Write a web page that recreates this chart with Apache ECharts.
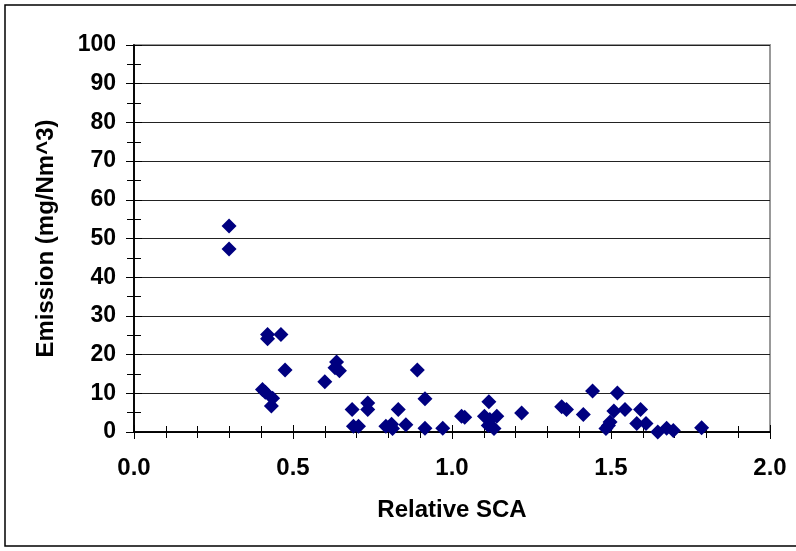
<html>
  <head>
    <meta charset="utf-8" />
    <title>Emission vs Relative SCA</title>
    <script type="text/javascript" src="https://cdn.jsdelivr.net/npm/echarts@6/dist/echarts.min.js"></script>
    <style>
      body { margin: 0; background: #fff; }
    </style>
  </head>
  <body>
      <div id="main" style="width:796px;height:551px;"></div>
      <script type="text/javascript">
        // values
        var relSCA = [
            0.299, 0.299, 0.420, 0.420, 0.462, 0.475, 0.404, 0.413, 0.436, 0.432,
            0.600, 0.637, 0.632, 0.646, 0.891, 0.915, 0.686, 0.735, 0.735, 0.690,
            0.706, 0.831, 0.792, 0.810, 0.813, 0.855, 0.915, 0.971, 1.030, 1.040,
            1.116, 1.102, 1.119, 1.141, 1.114, 1.132, 1.219, 1.345, 1.360, 1.413,
            1.442, 1.520, 1.509, 1.544, 1.593, 1.497, 1.492, 1.484, 1.581, 1.610,
            1.647, 1.675, 1.696, 1.785
        ];
        var emission = [
            53.2, 47.3, 25.2, 24.1, 25.2, 16.0, 11.0, 10.3, 8.7, 6.7,
            13.0, 18.1, 16.6, 15.8, 16.0, 8.6, 5.8, 7.5, 5.8, 1.5,
            1.5, 5.8, 1.5, 2.0, 0.9, 1.9, 1.0, 1.0, 4.1, 3.8,
            7.8, 4.1, 3.2, 4.1, 1.7, 0.9, 4.9, 6.5, 5.8, 4.5,
            10.6, 10.1, 5.4, 5.8, 5.8, 2.6, 1.7, 0.9, 2.2, 2.2,
            0.0, 1.0, 0.4, 1.1
        ];

        var points = relSCA.map(function (x, i) { return [x, emission[i]]; });

        var font = '"Liberation Sans", Arial, sans-serif';

        var myChart = echarts.init(document.getElementById('main'), null, { renderer: 'canvas' });

        var xBase = {
            type: 'value',
            min: 0,
            max: 2,
            interval: 0.5,
            position: 'bottom',
            axisLine: { show: true, lineStyle: { color: '#000', width: 1.5 } },
            splitLine: { show: false }
        };
        var yBase = {
            type: 'value',
            min: 0,
            max: 100,
            interval: 10,
            position: 'left',
            axisLine: { show: true, lineStyle: { color: '#000', width: 1.5 } }
        };

        var option = {
            animation: false,
            backgroundColor: '#fff',
            graphic: [
                {
                    type: 'rect',
                    shape: { x: 5, y: 5, width: 800, height: 541 },
                    style: { fill: 'none', stroke: '#000', lineWidth: 1.5 },
                    silent: true
                }
            ],
            grid: {
                left: 134,
                right: 26,
                top: 45,
                bottom: 119,
                show: true,
                borderColor: '#999',
                borderWidth: 2
            },
            xAxis: [
                Object.assign({}, xBase, {
                    name: 'Relative SCA',
                    nameLocation: 'middle',
                    nameGap: 66,
                    nameTextStyle: { fontFamily: font, fontWeight: 'bold', fontSize: 24, color: '#000' },
                    axisTick: { show: true, inside: false, length: 7, lineStyle: { color: '#000' } },
                    minorTick: { show: true, splitNumber: 5, length: 6, lineStyle: { color: '#000' } },
                    axisLabel: {
                        margin: 24,
                        fontFamily: font,
                        fontWeight: 'bold',
                        fontSize: 24,
                        color: '#000',
                        formatter: function (v) { return v.toFixed(1); }
                    }
                }),
                Object.assign({}, xBase, {
                    axisTick: { show: true, inside: true, length: 7, lineStyle: { color: '#000' } },
                    minorTick: { show: true, splitNumber: 5, length: 6, lineStyle: { color: '#000' } },
                    axisLabel: { show: false }
                })
            ],
            yAxis: [
                Object.assign({}, yBase, {
                    name: 'Emission (mg/Nm^3)',
                    nameLocation: 'middle',
                    nameRotate: 90,
                    nameGap: 76,
                    nameTextStyle: { fontFamily: font, fontWeight: 'bold', fontSize: 24, color: '#000' },
                    axisTick: { show: true, inside: false, length: 8, lineStyle: { color: '#000' } },
                    minorTick: { show: true, splitNumber: 2, length: 7, lineStyle: { color: '#000' } },
                    splitLine: { show: true, lineStyle: { color: '#222', width: 1 } },
                    axisLabel: {
                        margin: 18,
                        fontFamily: font,
                        fontWeight: 'bold',
                        fontSize: 23,
                        color: '#000'
                    }
                }),
                Object.assign({}, yBase, {
                    axisTick: { show: true, inside: true, length: 8, lineStyle: { color: '#000' } },
                    minorTick: { show: true, splitNumber: 2, length: 7, lineStyle: { color: '#000' } },
                    splitLine: { show: false },
                    axisLabel: { show: false }
                })
            ],
            series: [
                {
                    type: 'scatter',
                    xAxisIndex: 0,
                    yAxisIndex: 0,
                    symbol: 'diamond',
                    symbolSize: 15,
                    itemStyle: { color: '#000080', opacity: 1 },
                    data: points
                }
            ]
        };
        myChart.setOption(option);
      </script>
  </body>
</html>
